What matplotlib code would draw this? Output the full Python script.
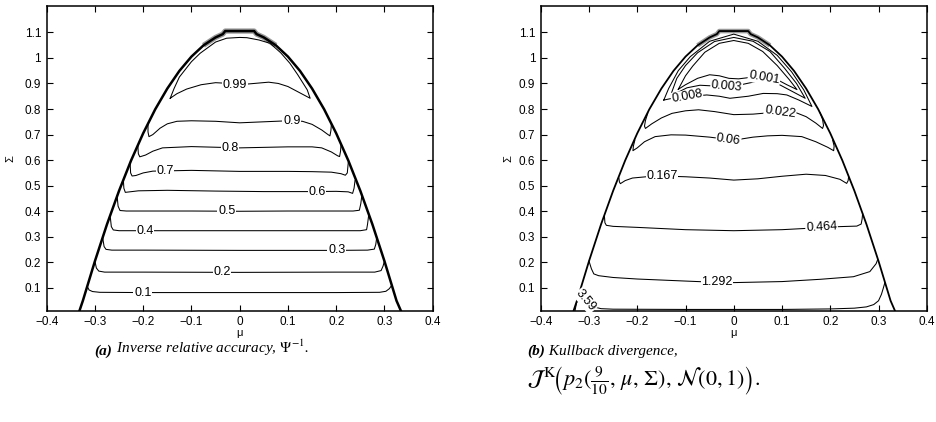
import matplotlib.pyplot as plt

plt.rcParams['font.family'] = ['Liberation Sans', 'DejaVu Sans']
plt.rcParams['mathtext.fontset'] = 'stix'

###############################################################
# Data (mu, Sigma)
###############################################################

# outer edge of the feasible region (same in both panels)
edge_mu = [-0.332, -0.325, -0.3, -0.275, -0.25, -0.225, -0.2, -0.175, -0.15, -0.125, -0.1,
           -0.075, -0.05, -0.035, -0.03, 0.03, 0.035, 0.05, 0.075, 0.1, 0.125, 0.15, 0.175,
           0.2, 0.225, 0.25, 0.275, 0.3, 0.325, 0.334]
edge_sig = [0.011, 0.05, 0.205, 0.349, 0.48, 0.599, 0.705, 0.799, 0.88, 0.949, 1.005,
            1.049, 1.08, 1.093, 1.105, 1.105, 1.093, 1.08, 1.049, 1.005, 0.949, 0.88, 0.799,
            0.705, 0.599, 0.48, 0.349, 0.205, 0.05, 0.011]

# (a) inverse relative accuracy
psi_01_mu = [-0.316, -0.312, -0.305, -0.29, -0.2, -0.1, 0.0, 0.1, 0.2, 0.29, 0.303, 0.31, 0.315]
psi_01_sig = [0.106, 0.092, 0.086, 0.083, 0.082, 0.082, 0.082, 0.082, 0.082, 0.083, 0.087, 0.097, 0.11]
psi_02_mu = [-0.3, -0.297, -0.292, -0.28, -0.2, 0.0, 0.2, 0.28, 0.293, 0.297, 0.3]
psi_02_sig = [0.205, 0.178, 0.166, 0.162, 0.162, 0.161, 0.162, 0.162, 0.168, 0.185, 0.205]
psi_03_mu = [-0.284, -0.281, -0.277, -0.265, -0.2, 0.0, 0.2, 0.265, 0.279, 0.282, 0.284]
psi_03_sig = [0.298, 0.262, 0.251, 0.248, 0.248, 0.247, 0.247, 0.248, 0.252, 0.27, 0.298]
psi_04_mu = [-0.268, -0.266, -0.262, -0.25, -0.2, 0.0, 0.2, 0.25, 0.263, 0.265, 0.267]
psi_04_sig = [0.375, 0.34, 0.327, 0.324, 0.324, 0.324, 0.324, 0.324, 0.328, 0.35, 0.38]
psi_05_mu = [-0.254, -0.252, -0.248, -0.235, -0.1, 0.0, 0.1, 0.235, 0.248, 0.251, 0.253]
psi_05_sig = [0.46, 0.42, 0.403, 0.401, 0.401, 0.4, 0.401, 0.401, 0.404, 0.43, 0.46]
psi_06_mu = [-0.241, -0.24, -0.237, -0.228, -0.21, -0.15, -0.05, 0.05, 0.15, 0.2, 0.225, 0.234, 0.237, 0.239]
psi_06_sig = [0.52, 0.49, 0.474, 0.476, 0.48, 0.482, 0.479, 0.477, 0.477, 0.478, 0.476, 0.47, 0.49, 0.52]
psi_07_mu = [-0.227, -0.226, -0.223, -0.215, -0.2, -0.18, -0.1, 0.0, 0.1, 0.15, 0.19, 0.21, 0.219, 0.223, 0.225]
psi_07_sig = [0.585, 0.55, 0.538, 0.54, 0.55, 0.557, 0.56, 0.556, 0.556, 0.555, 0.553, 0.547, 0.541, 0.55, 0.59]
psi_08_mu = [-0.211, -0.21, -0.207, -0.195, -0.18, -0.16, -0.1, 0.0, 0.1, 0.15, 0.17, 0.19, 0.203, 0.207, 0.209, 0.21]
psi_08_sig = [0.655, 0.625, 0.613, 0.62, 0.635, 0.648, 0.653, 0.648, 0.652, 0.652, 0.648, 0.632, 0.617, 0.614, 0.635, 0.66]
psi_09_mu = [-0.19, -0.19, -0.188, -0.18, -0.165, -0.15, -0.13, -0.1, -0.05, 0.0, 0.05, 0.1, 0.13,
             0.15, 0.17, 0.183, 0.187, 0.189, 0.19]
psi_09_sig = [0.738, 0.71, 0.692, 0.7, 0.725, 0.742, 0.752, 0.754, 0.752, 0.746, 0.75, 0.754, 0.752,
              0.74, 0.718, 0.7, 0.695, 0.715, 0.74]
psi_099_mu = [-0.144, -0.13, -0.11, -0.08, -0.05, -0.02, 0.0, 0.03, 0.06, 0.08, 0.1, 0.12, 0.146,
              0.14, 0.12, 0.104, 0.085, 0.063, 0.04, 0.015, 0.0, -0.027, -0.05, -0.082, -0.1,
              -0.125, -0.136, -0.144]
psi_099_sig = [0.842, 0.86, 0.878, 0.895, 0.903, 0.9, 0.895, 0.9, 0.905, 0.9, 0.888, 0.868, 0.842,
               0.875, 0.935, 0.979, 1.02, 1.057, 1.07, 1.079, 1.08, 1.077, 1.062, 1.018, 0.985,
               0.925, 0.88, 0.842]

psi_labels = ['0.1', '0.2', '0.3', '0.4', '0.5', '0.6', '0.7', '0.8', '0.9', '0.99']
psi_label_mu = [-0.201, -0.037, 0.201, -0.196, -0.027, 0.16, -0.155, -0.02, 0.108, -0.01]
psi_label_sig = [0.082, 0.161, 0.247, 0.324, 0.4, 0.477, 0.559, 0.649, 0.754, 0.895]
psi_label_rot = [0, 0, 0, 0, 0, 0, 0, 0, 0, 0]

# (b) Kullback divergence
kl_0001_mu = [-0.115, -0.1, -0.075, -0.05, -0.03, -0.01, 0.01, 0.04, 0.065, 0.09, 0.11, 0.131,
              0.115, 0.09, 0.06, 0.03, 0.0, -0.03, -0.06, -0.085, -0.1, -0.115]
kl_0001_sig = [0.877, 0.895, 0.92, 0.934, 0.93, 0.92, 0.918, 0.925, 0.926, 0.915, 0.895, 0.876,
               0.915, 0.97, 1.025, 1.057, 1.068, 1.057, 1.022, 0.968, 0.93, 0.877]
kl_0003_mu = [-0.13, -0.115, -0.097, -0.07, -0.04, -0.015, 0.01, 0.04, 0.07, 0.096, 0.12, 0.148,
              0.13, 0.105, 0.075, 0.04, 0.0, -0.04, -0.075, -0.1, -0.118, -0.13]
kl_0003_sig = [0.858, 0.866, 0.883, 0.893, 0.89, 0.887, 0.893, 0.905, 0.905, 0.894, 0.87, 0.842,
               0.9, 0.96, 1.025, 1.065, 1.08, 1.064, 1.02, 0.97, 0.92, 0.858]
kl_0008_mu = [-0.145, -0.125, -0.097, -0.056, -0.03, -0.008, 0.03, 0.061, 0.09, 0.11, 0.135, 0.162,
              0.145, 0.12, 0.09, 0.05, 0.0, -0.05, -0.09, -0.115, -0.135, -0.145]
kl_0008_sig = [0.835, 0.843, 0.848, 0.855, 0.85, 0.842, 0.85, 0.861, 0.86, 0.855, 0.835, 0.81,
               0.875, 0.945, 1.01, 1.065, 1.093, 1.065, 1.005, 0.95, 0.88, 0.835]
kl_0022_mu = [-0.178, -0.183, -0.185, -0.183, -0.17, -0.15, -0.128, -0.1, -0.073, -0.04, 0.0, 0.04,
              0.096, 0.13, 0.15, 0.17, 0.184, 0.186, 0.184, 0.179]
kl_0022_sig = [0.785, 0.755, 0.733, 0.724, 0.742, 0.765, 0.783, 0.793, 0.797, 0.79, 0.778, 0.78,
               0.789, 0.785, 0.77, 0.745, 0.724, 0.735, 0.76, 0.785]
kl_006_mu = [-0.205, -0.208, -0.209, -0.2, -0.185, -0.163, -0.13, -0.1, -0.05, 0.0, 0.04, 0.07, 0.1,
             0.141, 0.17, 0.195, 0.207, 0.208, 0.205]
kl_006_sig = [0.678, 0.655, 0.637, 0.648, 0.672, 0.692, 0.699, 0.698, 0.69, 0.678, 0.69, 0.695, 0.697,
              0.692, 0.672, 0.65, 0.637, 0.655, 0.678]
kl_0167_mu = [-0.238, -0.237, -0.235, -0.225, -0.21, -0.17, -0.149, -0.1, -0.05, 0.0, 0.05, 0.1,
              0.15, 0.19, 0.22, 0.234, 0.237, 0.238]
kl_0167_sig = [0.53, 0.515, 0.508, 0.52, 0.53, 0.537, 0.538, 0.535, 0.53, 0.522, 0.527, 0.537,
               0.545, 0.54, 0.525, 0.509, 0.52, 0.535]
kl_0464_mu = [-0.268, -0.267, -0.264, -0.25, -0.2, -0.1, 0.0, 0.1, 0.15, 0.22, 0.255, 0.264, 0.266, 0.267]
kl_0464_sig = [0.38, 0.355, 0.345, 0.341, 0.337, 0.328, 0.324, 0.328, 0.333, 0.34, 0.342, 0.35, 0.37, 0.39]
kl_1292_mu = [-0.3, -0.295, -0.29, -0.28, -0.25, -0.2, -0.1, -0.035, 0.0, 0.1, 0.18, 0.248, 0.282, 0.295, 0.298]
kl_1292_sig = [0.205, 0.175, 0.155, 0.148, 0.141, 0.135, 0.127, 0.122, 0.121, 0.125, 0.134, 0.144, 0.164, 0.195, 0.21]
kl_359_mu = [-0.329, -0.326, -0.32, -0.312, -0.3, -0.29, -0.275, -0.25, -0.1, 0.0, 0.1, 0.2, 0.25,
             0.275, 0.29, 0.3, 0.306, 0.31, 0.313]
kl_359_sig = [0.011, 0.04, 0.066, 0.063, 0.042, 0.026, 0.019, 0.017, 0.016, 0.016, 0.016, 0.018, 0.021,
              0.026, 0.035, 0.05, 0.075, 0.1, 0.12]

kl_labels = ['0.001', '0.003', '0.008', '0.022', '0.06', '0.167', '0.464', '1.292', '3.59']
kl_label_mu = [0.063, -0.015, -0.097, 0.096, -0.011, -0.149, 0.182, -0.035, -0.307]
kl_label_sig = [0.922, 0.887, 0.848, 0.789, 0.68, 0.538, 0.336, 0.122, 0.05]
kl_label_rot = [-10, -5, 10, -8, -8, 0, 3, 0, -50]

psi_lines = [(psi_01_mu, psi_01_sig), (psi_02_mu, psi_02_sig), (psi_03_mu, psi_03_sig),
             (psi_04_mu, psi_04_sig), (psi_05_mu, psi_05_sig), (psi_06_mu, psi_06_sig),
             (psi_07_mu, psi_07_sig), (psi_08_mu, psi_08_sig), (psi_09_mu, psi_09_sig),
             (psi_099_mu, psi_099_sig)]
kl_lines = [(kl_0001_mu, kl_0001_sig), (kl_0003_mu, kl_0003_sig), (kl_0008_mu, kl_0008_sig),
            (kl_0022_mu, kl_0022_sig), (kl_006_mu, kl_006_sig), (kl_0167_mu, kl_0167_sig),
            (kl_0464_mu, kl_0464_sig), (kl_1292_mu, kl_1292_sig), (kl_359_mu, kl_359_sig)]

###############################################################
# Figure
###############################################################

fig = plt.figure(figsize=(9.37, 4.22), dpi=100)
ax_a = fig.add_axes([0.0498, 0.2637, 0.412, 0.7221])
ax_b = fig.add_axes([0.5771, 0.2637, 0.412, 0.7221])

top_mu = [m for m in edge_mu if abs(m) <= 0.09]
top_sig = [s for m, s in zip(edge_mu, edge_sig) if abs(m) <= 0.09]


def draw_panel(ax, lines, labels, lab_mu, lab_sig, lab_rot, edge_lw, ylab_x):
    ax.plot(top_mu, top_sig, color='0.6', lw=edge_lw + 2.0, solid_capstyle='butt', zorder=1)
    ax.plot(edge_mu, edge_sig, color='k', lw=edge_lw, zorder=2)
    for mu, sig in lines:
        ax.plot(mu, sig, color='k', lw=0.75, zorder=2)
    for txt, m, s, r in zip(labels, lab_mu, lab_sig, lab_rot):
        ax.text(m, s, txt, ha='center', va='center', rotation=r, fontsize=9,
                rotation_mode='anchor', zorder=3,
                bbox=dict(boxstyle='square,pad=0.05', fc='white', ec='none'))

    ax.set_xlim(-0.4, 0.4)
    ax.set_ylim(0.011, 1.203)
    ax.set_xticks([-0.4, -0.3, -0.2, -0.1, 0, 0.1, 0.2, 0.3, 0.4])
    ax.set_xticklabels(['\u22120.4', '\u22120.3', '\u22120.2', '\u22120.1', '0',
                        '0.1', '0.2', '0.3', '0.4'])
    ax.set_yticks([0.1, 0.2, 0.3, 0.4, 0.5, 0.6, 0.7, 0.8, 0.9, 1.0, 1.1])
    ax.set_yticklabels(['0.1', '0.2', '0.3', '0.4', '0.5', '0.6', '0.7', '0.8', '0.9', '1', '1.1'])
    ax.tick_params(direction='in', top=True, right=True, length=4, width=0.8,
                   labelsize=8.5, pad=4)
    for sp in ax.spines.values():
        sp.set_linewidth(1.1)
    ax.text(0.5, -0.074, '\u03bc', transform=ax.transAxes, ha='center', va='center', fontsize=8)
    ax.text(ylab_x, 0.5, '\u03a3', transform=ax.transAxes, ha='center', va='center',
            rotation=90, fontsize=8)


draw_panel(ax_a, psi_lines, psi_labels, psi_label_mu, psi_label_sig, psi_label_rot, 1.8, -0.095)
draw_panel(ax_b, kl_lines, kl_labels, kl_label_mu, kl_label_sig, kl_label_rot, 1.3, -0.085)

# captions
serif = ['Liberation Serif', 'DejaVu Serif']
ta = fig.text(0.101, 0.158, '(a)', family=serif, style='italic', weight='bold',
              fontsize=11, va='baseline')
ax_a.annotate(' Inverse relative accuracy, $\\Psi^{-1}$.', xy=(1, 0), xycoords=ta,
              va='bottom', ha='left', family=serif, style='italic', fontsize=11)

tb = fig.text(0.5625, 0.158, '(b)', family=serif, style='italic', weight='bold',
              fontsize=11, va='baseline')
ax_b.annotate(' Kullback divergence,', xy=(1, 0), xycoords=tb,
              va='bottom', ha='left', family=serif, style='italic', fontsize=11)
fig.text(0.5625, 0.087,
         r'$\mathcal{J}^{\,\mathrm{K}}\!\left(p_2(\frac{9}{10},\,\mu,\,\Sigma),\,\mathcal{N}(0,1)\right).$',
         fontsize=16, va='baseline', ha='left')

fig.savefig('out.png', dpi=100)
